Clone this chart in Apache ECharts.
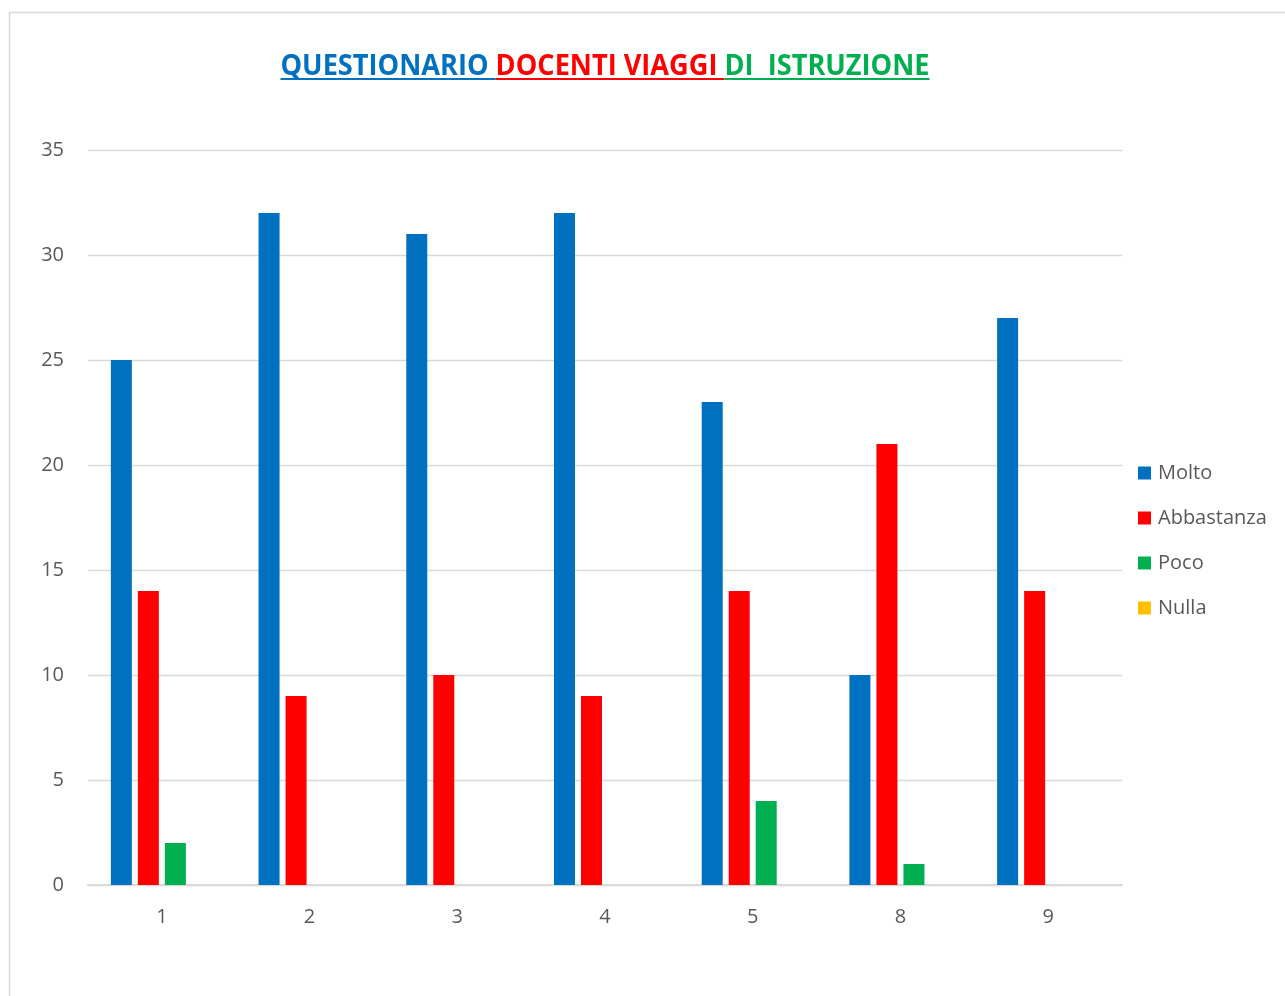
<!DOCTYPE html>
<html>
<head>
<meta charset="utf-8">
<script src="https://cdn.jsdelivr.net/npm/echarts@6/dist/echarts.min.js"></script>
<style>
  html, body { margin: 0; padding: 0; background: #fff; }
  #chart { width: 1285px; height: 996px; }
</style>
</head>
<body>
<div id="chart"></div>
<script>
// dati del questionario
const categories = ['1', '2', '3', '4', '5', '8', '9'];
const molto      = [25, 32, 31, 32, 23, 10, 27];
const abbastanza = [14, 9, 10, 9, 14, 21, 14];
const poco       = [2, 0, 0, 0, 4, 1, 0];
const nulla      = [0, 0, 0, 0, 0, 0, 0];

const seriesNames  = ['Molto', 'Abbastanza', 'Poco', 'Nulla'];
const seriesColors = ['#0070C0', '#FF0000', '#00B050', '#FFC000'];
const titleParts   = ['QUESTIONARIO ', 'DOCENTI VIAGGI ', 'DI  ISTRUZIONE'];
const titleColors  = ['#0070C0', '#FF0000', '#00B050'];

const textFont = "'Open Sans', 'Noto Sans', sans-serif";

// misura il titolo: stessa altezza del riferimento, compresso in larghezza
const titleSize = 28;
const ctx = document.createElement('canvas').getContext('2d');
ctx.font = 'bold ' + titleSize + "px 'Open Sans'";
const partWidths = titleParts.map(t => ctx.measureText(t).width);
const fullWidth = partWidths.reduce((a, b) => a + b, 0);
const targetWidth = 649;
const sx = targetWidth / fullWidth;
const titleLeft = 605 - targetWidth / 2;

const titleTexts = [];
const underline = [];
let x = 0;
partWidths.forEach((w, i) => {
  titleTexts.push({
    type: 'text',
    x: x,
    y: 0,
    style: {
      text: titleParts[i],
      fill: titleColors[i],
      fontSize: titleSize,
      fontWeight: 'bold',
      fontFamily: textFont,
      textVerticalAlign: 'middle'
    }
  });
  underline.push({
    type: 'line',
    shape: { x1: titleLeft + x * sx, y1: 79, x2: titleLeft + (x + w) * sx, y2: 79 },
    style: { stroke: titleColors[i], lineWidth: 2 }
  });
  x += w;
});

const chart = echarts.init(document.getElementById('chart'));

const option = {
  backgroundColor: '#fff',
  animation: false,
  graphic: [
    {
      type: 'rect',
      shape: { x: 9.5, y: 12.5, width: 1300, height: 1000 },
      style: { fill: 'none', stroke: '#D9D9D9', lineWidth: 1.5 },
      silent: true
    },
    {
      type: 'group',
      x: titleLeft,
      y: 67,
      scaleX: sx,
      children: titleTexts
    }
  ].concat(underline),
  legend: {
    orient: 'vertical',
    left: 1138,
    top: 463,
    padding: 0,
    itemWidth: 13,
    itemHeight: 13,
    itemGap: 25,
    icon: 'rect',
    textStyle: { color: '#595959', fontSize: 20, fontFamily: textFont, padding: [0, 0, 0, 2] },
    data: seriesNames
  },
  grid: { left: 88, right: 163, top: 150, bottom: 111 },
  xAxis: {
    type: 'category',
    data: categories,
    axisLine: { lineStyle: { color: '#D9D9D9', width: 2 } },
    axisTick: { show: false },
    axisLabel: { color: '#595959', fontSize: 20, fontFamily: textFont, margin: 22 }
  },
  yAxis: {
    type: 'value',
    min: 0,
    max: 35,
    interval: 5,
    axisLine: { show: false },
    axisTick: { show: false },
    splitLine: { lineStyle: { color: '#D9D9D9', width: 1.3 } },
    axisLabel: { color: '#595959', fontSize: 20, fontFamily: textFont, margin: 24 }
  },
  series: [molto, abbastanza, poco, nulla].map((d, i) => ({
    name: seriesNames[i],
    type: 'bar',
    data: d,
    barWidth: 21,
    barGap: '28.6%',
    itemStyle: { color: seriesColors[i] }
  }))
};

chart.setOption(option);
</script>
</body>
</html>
